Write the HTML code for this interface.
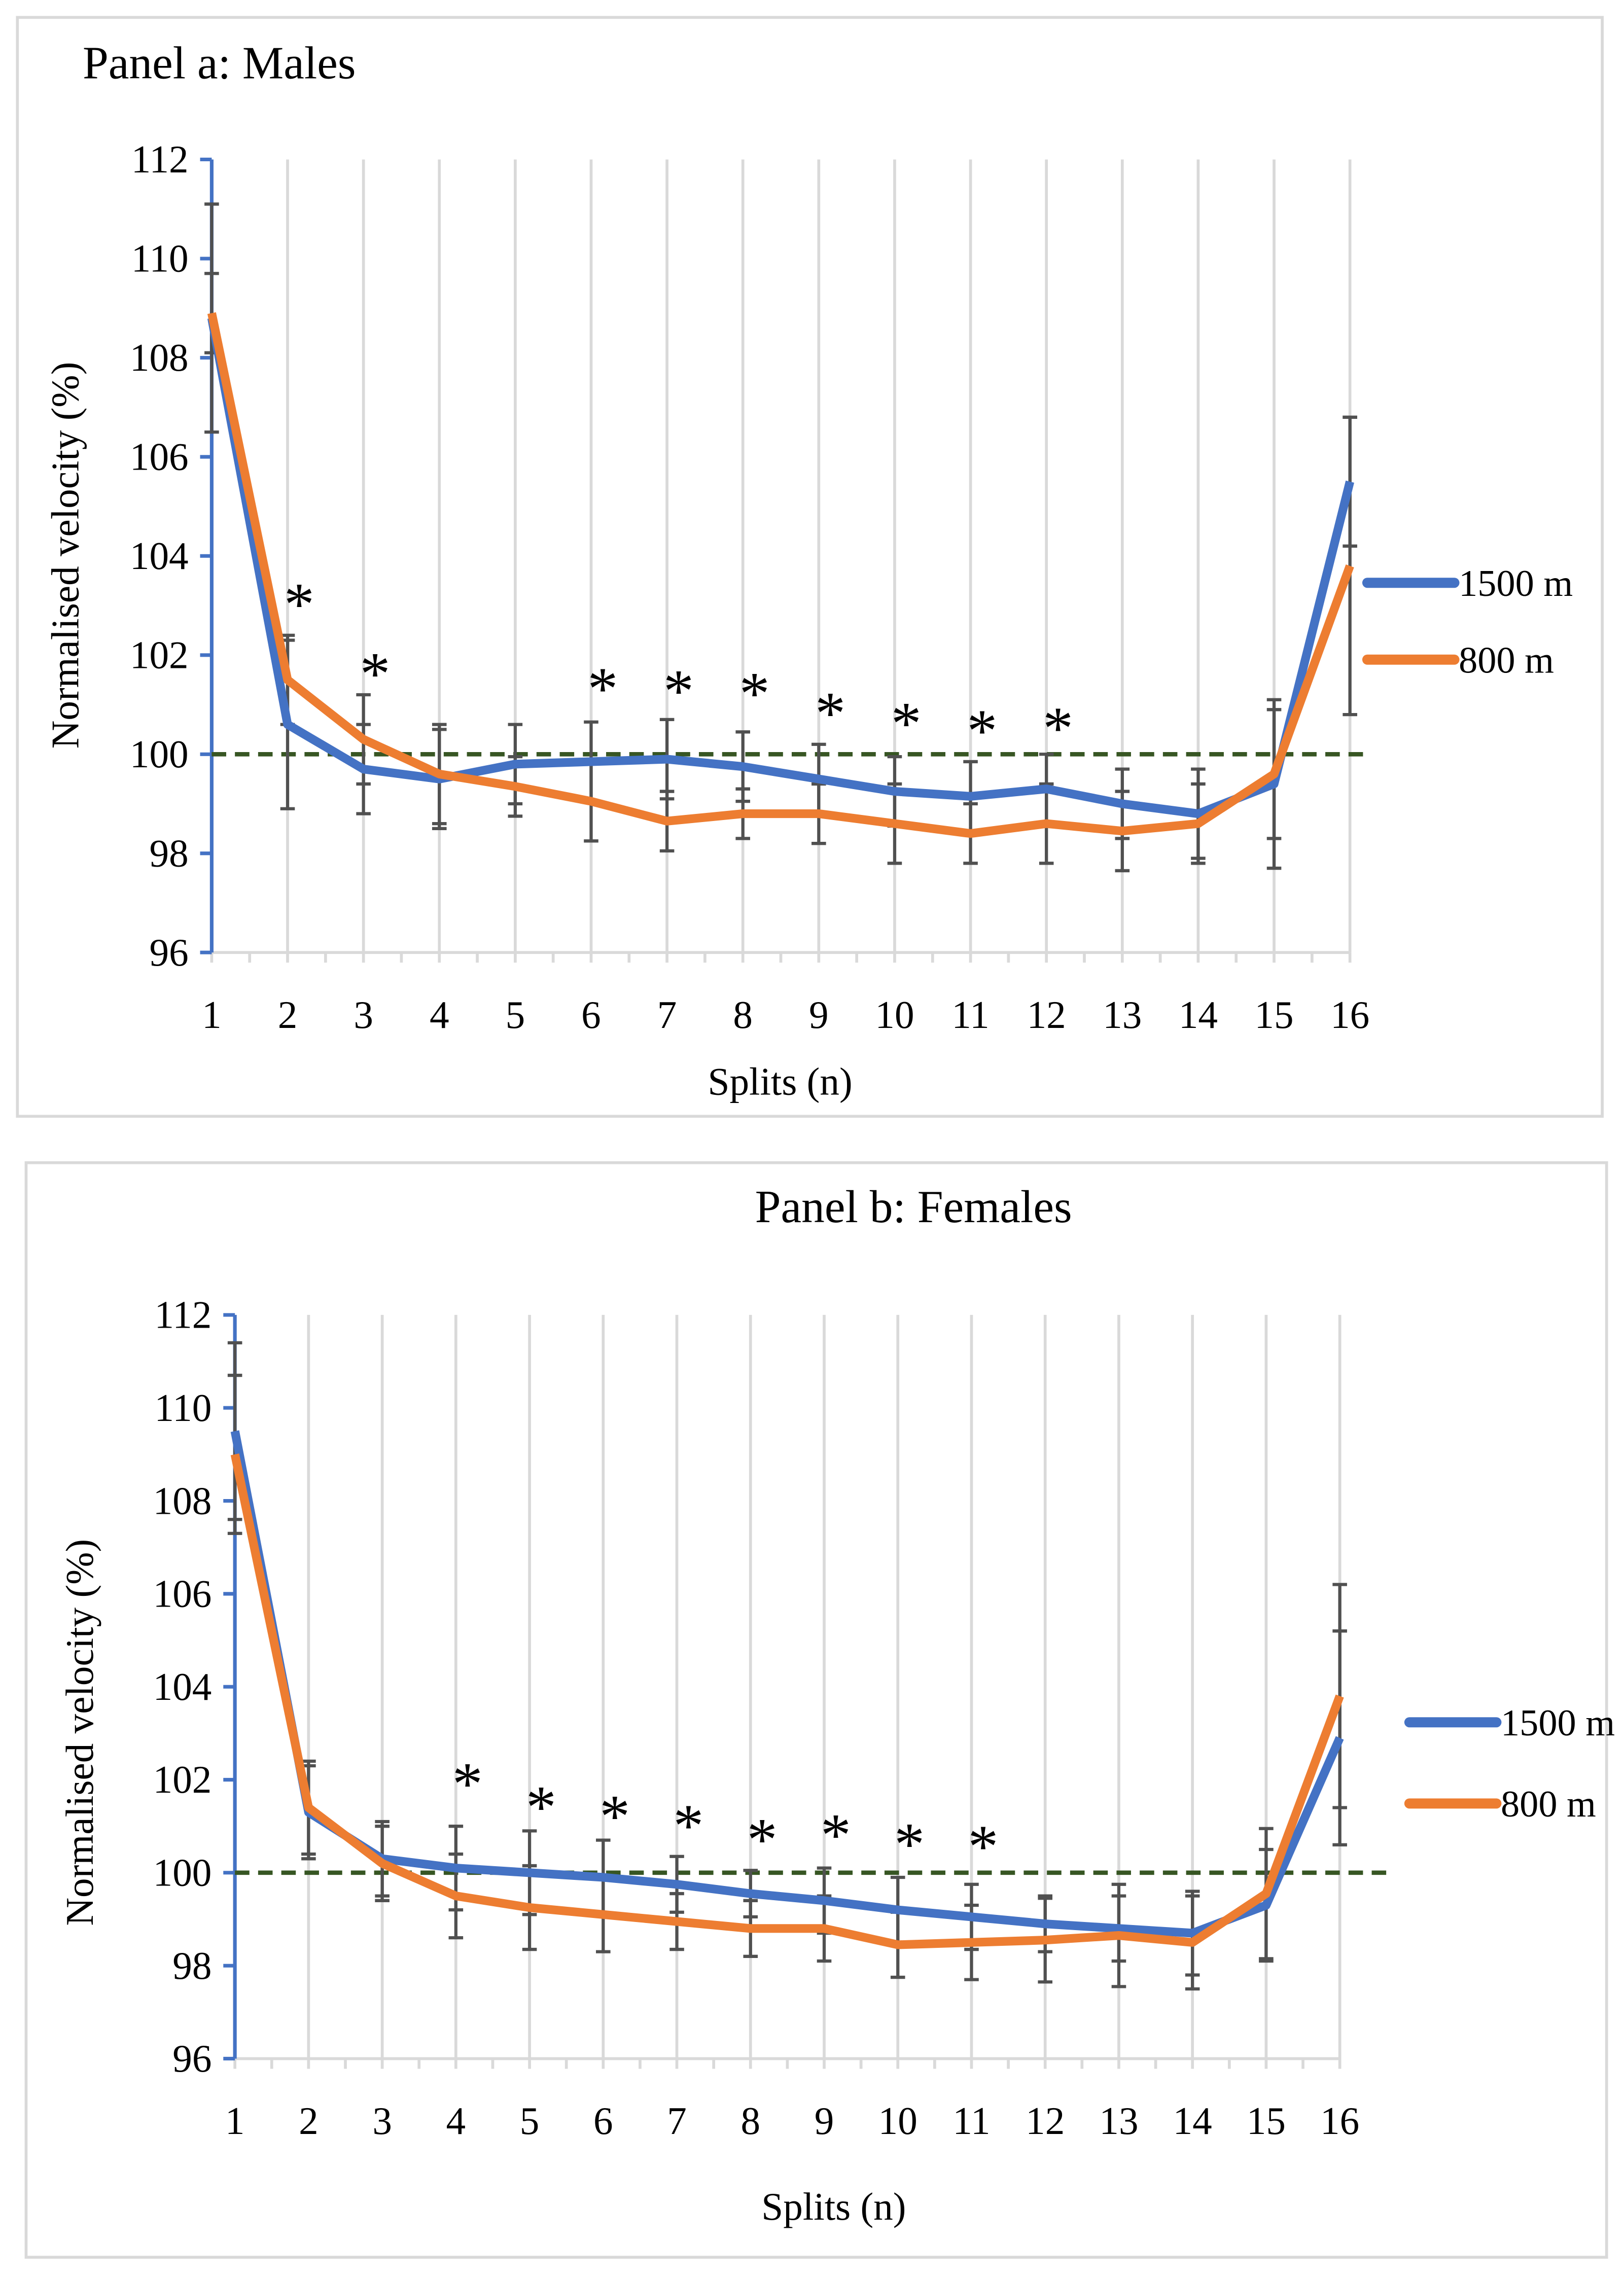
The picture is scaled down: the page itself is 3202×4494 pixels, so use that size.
<!DOCTYPE html>
<html><head><meta charset="utf-8"><style>
html,body{margin:0;padding:0;background:#fff;}
svg{display:block;}
text{font-family:"Liberation Serif",serif;fill:#000;}
</style></head><body>
<svg id="chart" width="3202" height="4494" viewBox="0 0 1120 1572" preserveAspectRatio="none" xmlns="http://www.w3.org/2000/svg">
<rect x="12" y="12" width="1093" height="758" fill="#fff" stroke="#d9d9d9" stroke-width="2"/>
<rect x="18" y="802" width="1090" height="755" fill="#fff" stroke="#d9d9d9" stroke-width="2"/>
<g id="pa"></g>
<g id="pb"></g>
</svg>
<script>
const categories = [1,2,3,4,5,6,7,8,9,10,11,12,13,14,15,16];
const yTicks = [96,98,100,102,104,106,108,110,112];
const males1500 = [108.8,100.6,99.7,99.5,99.8,99.85,99.9,99.75,99.5,99.25,99.15,99.3,99.0,98.8,99.4,105.5];
const males800 = [108.9,101.5,100.3,99.6,99.35,99.05,98.65,98.8,98.8,98.6,98.4,98.6,98.45,98.6,99.6,103.8];
const males1500sd = [2.3,1.7,0.9,1.0,0.8,0.8,0.8,0.7,0.7,0.7,0.7,0.7,0.7,0.9,1.7,1.3];
const males800sd = [0.8,0.9,0.9,1.0,0.6,0.8,0.6,0.5,0.6,0.8,0.6,0.8,0.8,0.8,1.3,3.0];
const malesSig = [2,3,6,7,8,9,10,11,12];
const malesSigY = [103.2,101.8,101.5,101.45,101.4,101.0,100.8,100.65,100.7];
const females1500 = [109.5,101.3,100.3,100.1,100.0,99.9,99.75,99.55,99.4,99.2,99.05,98.9,98.8,98.7,99.3,102.9];
const females800 = [109.0,101.4,100.2,99.5,99.25,99.1,98.95,98.8,98.8,98.45,98.5,98.55,98.65,98.5,99.55,103.8];
const females1500sd = [1.9,1.0,0.8,0.9,0.9,0.8,0.6,0.5,0.7,0.7,0.7,0.6,0.7,0.9,1.2,2.3];
const females800sd = [1.7,1.0,0.8,0.9,0.9,0.8,0.6,0.6,0.7,0.7,0.8,0.9,1.1,1.0,1.4,2.4];
const femalesSig = [4,5,6,7,8,9,10,11];
const femalesSigY = [102.1,101.6,101.4,101.2,100.9,101.0,100.8,100.75];

const NS="http://www.w3.org/2000/svg";
function mk(parent,tag,attrs,txt){const e=document.createElementNS(NS,tag);for(const k in attrs)e.setAttribute(k,attrs[k]);if(txt!==undefined)e.textContent=txt;parent.appendChild(e);return e;}

function panel(g,cfg,s1500,s800,sd1500,sd800,sig,sigY){
  const xS=c=>cfg.x0+(c-1)*(cfg.x1-cfg.x0)/15;
  const yS=v=>cfg.yb+(v-96)*(cfg.yt-cfg.yb)/16;
  let t=mk(g,'text',{x:cfg.titleX,y:cfg.titleY,'font-size':32,'text-anchor':cfg.titleAnchor},cfg.title);
  
  
  categories.forEach(c=>{
    if(c>1){const l=mk(g,'line',{x1:xS(c),x2:xS(c),y1:yS(112),y2:yS(96),stroke:'#d9d9d9','stroke-width':2});
    
    }
    const tk=mk(g,'line',{x1:xS(c),x2:xS(c),y1:yS(96),y2:yS(96)+7,stroke:'#d9d9d9','stroke-width':2});
    
    
    if(c<16){const mt=mk(g,'line',{x1:xS(c+0.5),x2:xS(c+0.5),y1:yS(96),y2:yS(96)+7,stroke:'#d9d9d9','stroke-width':2});
    
    }
    const lb=mk(g,'text',{x:xS(c),y:cfg.xlabY,'font-size':27,'text-anchor':'middle'},String(c));
    
    
  });
  const xa=mk(g,'line',{x1:cfg.x0,x2:cfg.x1,y1:yS(96),y2:yS(96),stroke:'#d9d9d9','stroke-width':2});
  
  
  const ya=mk(g,'line',{x1:cfg.x0,x2:cfg.x0,y1:yS(112),y2:yS(96),stroke:'#4472c4','stroke-width':2.5});
  
  
  yTicks.forEach(v=>{
    const tk=mk(g,'line',{x1:cfg.x0-8,x2:cfg.x0,y1:yS(v),y2:yS(v),stroke:'#4472c4','stroke-width':2.5});
    
    
    const lb=mk(g,'text',{x:cfg.x0-16,y:yS(v)+9,'font-size':27,'text-anchor':'end'},String(v));
    
    
  });
  const ref=mk(g,'line',{x1:cfg.x0,x2:cfg.refEnd,y1:yS(100),y2:yS(100),stroke:'#375623','stroke-width':3,'stroke-dasharray':'10,6'});
  
  
  function errs(vals,sds,name){
    vals.forEach((v,i)=>{
      const x=xS(categories[i]);
      const eg=mk(g,'g',{stroke:'#505050','stroke-width':2.2});
      
      
      mk(eg,'line',{x1:x,x2:x,y1:yS(v-sds[i]),y2:yS(v+sds[i])});
      mk(eg,'line',{x1:x-5,x2:x+5,y1:yS(v-sds[i]),y2:yS(v-sds[i])});
      mk(eg,'line',{x1:x-5,x2:x+5,y1:yS(v+sds[i]),y2:yS(v+sds[i])});
    });
  }
  errs(s1500,sd1500,'error-bar-1500m');
  errs(s800,sd800,'error-bar-800m');
  const p1=mk(g,'polyline',{points:s1500.map((v,i)=>xS(categories[i])+','+yS(v)).join(' '),fill:'none',stroke:'#4472c4','stroke-width':6,'stroke-linejoin':'round'});
  
  
  const p2=mk(g,'polyline',{points:s800.map((v,i)=>xS(categories[i])+','+yS(v)).join(' '),fill:'none',stroke:'#ed7d31','stroke-width':6,'stroke-linejoin':'round'});
  
  
  sig.forEach((c,i)=>{
    const a=mk(g,'text',{x:xS(c)+8,y:yS(sigY[i])+20,'font-size':42,'text-anchor':'middle','font-family':'Liberation Sans, sans-serif'},'*');
    
    
  });
  const xt=mk(g,'text',{x:cfg.xtX,y:cfg.xtY,'font-size':27,'text-anchor':'middle'},'Splits (n)');
  
  
  const yt=mk(g,'text',{x:0,y:0,'font-size':27,'text-anchor':'middle',transform:`translate(${cfg.ytX},${cfg.ytY}) rotate(-90)`},'Normalised velocity (%)');
  
  
  [['1500 m','#4472c4',cfg.leg1Y,'legend-entry-1500m'],['800 m','#ed7d31',cfg.leg2Y,'legend-entry-800m']].forEach(([n,col,y,dn])=>{
    const lg=mk(g,'g',{});
    
    
    mk(lg,'line',{x1:cfg.legX,x2:cfg.legX+60,y1:y,y2:y,stroke:col,'stroke-width':7,'stroke-linecap':'round'});
    mk(lg,'text',{x:cfg.legX+63,y:y+9,'font-size':26},n);
  });
}
panel(document.getElementById('pa'),{x0:146,x1:931,yt:110,yb:657,xlabY:709,title:'Panel a: Males',titleX:57,titleY:54,titleAnchor:'start',refEnd:942,xtX:538,xtY:755,ytX:54,ytY:383,legX:943,leg1Y:402,leg2Y:455},
  males1500,males800,males1500sd,males800sd,malesSig,malesSigY);
panel(document.getElementById('pb'),{x0:162,x1:924,yt:907,yb:1420,xlabY:1472,title:'Panel b: Females',titleX:630,titleY:843,titleAnchor:'middle',refEnd:957,xtX:575,xtY:1531,ytX:64,ytY:1195,legX:972,leg1Y:1188,leg2Y:1244},
  females1500,females800,females1500sd,females800sd,femalesSig,femalesSigY);
</script>
</body></html>
